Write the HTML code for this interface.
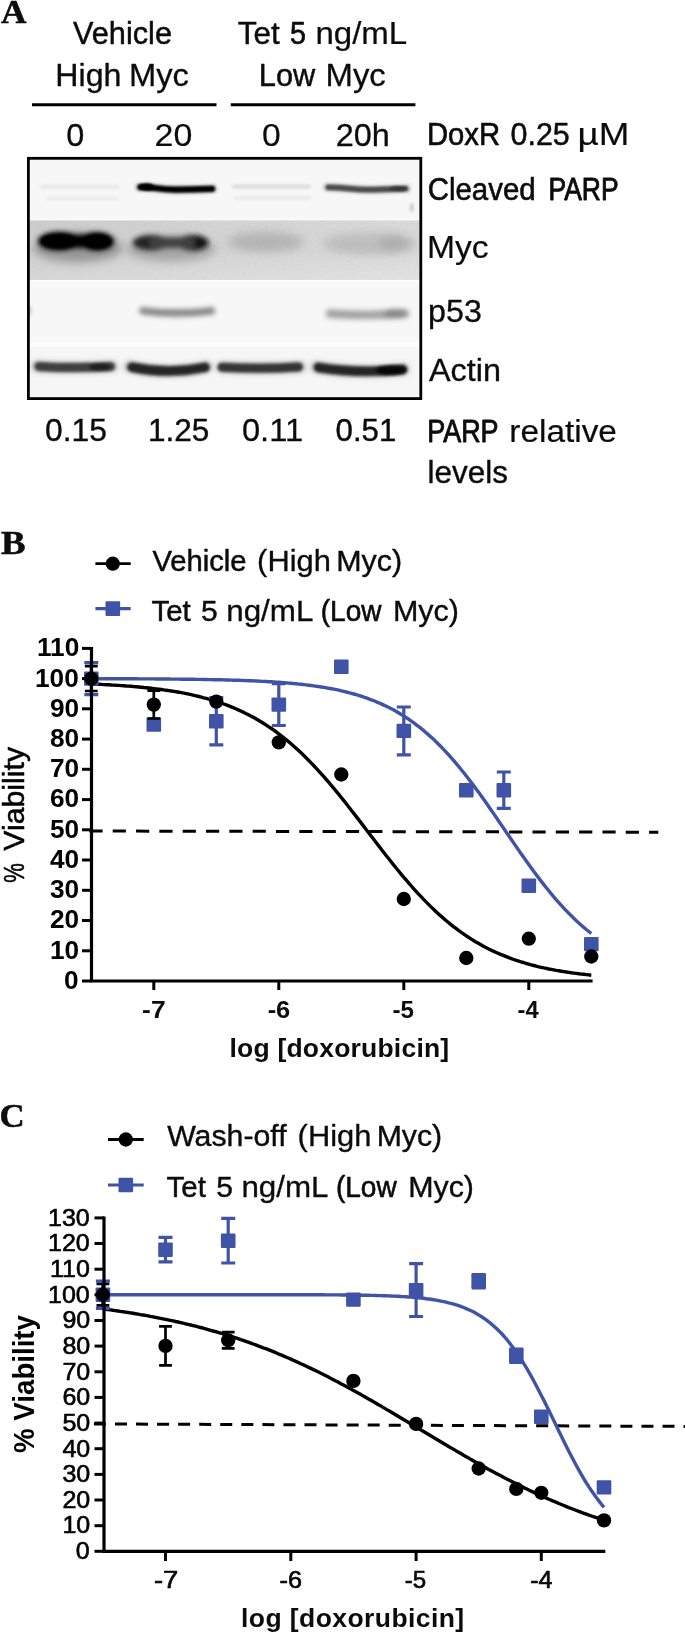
<!DOCTYPE html>
<html><head><meta charset="utf-8"><title>Figure</title>
<style>html,body{margin:0;padding:0;background:#fff}svg{display:block;will-change:transform}text{white-space:pre}</style></head>
<body><svg width="685" height="1634" viewBox="0 0 685 1634">
<rect width="685" height="1634" fill="#fff"/>
<defs>
<filter id="b0" filterUnits="userSpaceOnUse" x="0" y="140" width="460" height="280"><feGaussianBlur stdDeviation="0.85"/></filter>
<filter id="b1" filterUnits="userSpaceOnUse" x="0" y="140" width="460" height="280"><feGaussianBlur stdDeviation="1.1"/></filter>
<filter id="b2" filterUnits="userSpaceOnUse" x="0" y="140" width="460" height="280"><feGaussianBlur stdDeviation="1.8"/></filter>
<filter id="b3" filterUnits="userSpaceOnUse" x="0" y="140" width="460" height="280"><feGaussianBlur stdDeviation="2.6"/></filter>
<filter id="b4" filterUnits="userSpaceOnUse" x="0" y="140" width="460" height="280"><feGaussianBlur stdDeviation="4"/></filter>
<linearGradient id="mycbg" x1="0" x2="1" y1="0" y2="0"><stop offset="0" stop-color="#cdcdcd"/><stop offset="0.45" stop-color="#d3d3d3"/><stop offset="1" stop-color="#dadada"/></linearGradient>
<linearGradient id="mycv" x1="0" x2="0" y1="0" y2="1"><stop offset="0" stop-color="#fff" stop-opacity="0"/><stop offset="1" stop-color="#fff" stop-opacity="0.22"/></linearGradient>
<filter id="grain" x="0" y="0" width="100%" height="100%"><feTurbulence type="fractalNoise" baseFrequency="0.35" numOctaves="2" seed="7" result="n"/><feColorMatrix in="n" type="matrix" values="0 0 0 0 0.5  0 0 0 0 0.5  0 0 0 0 0.5  0.9 0.9 0 0 -0.78"/></filter>
<clipPath id="blotclip"><rect x="29" y="159" width="391" height="238"/></clipPath>
<clipPath id="row2clip"><rect x="29" y="220.4" width="391" height="59.6"/></clipPath>
</defs>
<g clip-path="url(#blotclip)">
<rect x="29" y="159" width="391" height="238" fill="#fcfcfc"/>
<rect x="29" y="159" width="391" height="60.3" fill="#f7f7f7"/>
<rect x="29" y="220.4" width="391" height="59.6" fill="url(#mycbg)"/>
<rect x="29" y="282.2" width="391" height="59.6" fill="#f7f7f7"/>
<rect x="29" y="346.5" width="391" height="51" fill="#f6f6f6"/>
<rect x="40" y="185.10000000000002" width="79" height="3.4" rx="1.7" fill="#bbb" opacity="0.3" filter="url(#b2)"/>
<rect x="46" y="196.8" width="73" height="3.2" rx="1.6" fill="#c4c4c4" opacity="0.25" filter="url(#b2)"/>
<path d="M139.5 187.2C150 186.2 158 189.8 176 189.7S200 189.3 213 188.8" fill="none" stroke="#777" stroke-width="9" stroke-linecap="round" opacity="0.45" filter="url(#b2)"/>
<path d="M140.5 187.2C150 186.2 158 189.8 176 189.7S200 189.3 212 188.8" fill="none" stroke="#000" stroke-width="6.2" stroke-linecap="round" filter="url(#b0)"/>
<ellipse cx="147" cy="187" rx="7" ry="3.6" fill="#000" filter="url(#b0)"/>
<rect x="232" y="184.79999999999998" width="79" height="3.6" rx="1.8" fill="#a8a8a8" opacity="0.38" filter="url(#b2)"/>
<rect x="234" y="196.6" width="77" height="3.2" rx="1.6" fill="#bdbdbd" opacity="0.28" filter="url(#b2)"/>
<path d="M327 187.2C340 187 352 189.7 368 189.7S395 189 406.5 188.6" fill="none" stroke="#888" stroke-width="9" stroke-linecap="round" opacity="0.4" filter="url(#b2)"/>
<path d="M328.5 187.3C340 187 352 189.7 368 189.7S395 189 405.5 188.6" fill="none" stroke="#4c4c4c" stroke-width="5.8" stroke-linecap="round" filter="url(#b1)"/>
<ellipse cx="398" cy="188.7" rx="8" ry="2.6" fill="#222" opacity="0.5" filter="url(#b1)"/>
<ellipse cx="411.8" cy="207.5" rx="1.5" ry="4.5" fill="#aaa" filter="url(#b2)" opacity="0.75"/>
<g clip-path="url(#row2clip)">
<rect x="29" y="220" width="391" height="61" filter="url(#grain)" opacity="0.3"/>
<ellipse cx="78" cy="248" rx="44" ry="15" fill="#444" opacity="0.42" filter="url(#b4)"/>
<g filter="url(#b3)"><ellipse cx="59" cy="241.2" rx="21" ry="9.4" fill="#000"/><ellipse cx="97" cy="241.4" rx="17" ry="9.4" fill="#000"/><rect x="56" y="234.6" width="44" height="13.4" rx="3" fill="#000"/></g>
<g filter="url(#b2)"><ellipse cx="59" cy="241.2" rx="18" ry="7" fill="#000"/><ellipse cx="97" cy="241.4" rx="14" ry="7" fill="#000"/></g>
<ellipse cx="171" cy="249" rx="44" ry="13" fill="#555" opacity="0.36" filter="url(#b4)"/>
<g filter="url(#b3)" opacity="0.95"><ellipse cx="151" cy="242.6" rx="18" ry="7.6" fill="#1a1a1a"/><ellipse cx="193" cy="242.8" rx="15.5" ry="7.8" fill="#111"/><rect x="150" y="237.4" width="44" height="10.4" fill="#3a3a3a"/></g>
<ellipse cx="266" cy="242" rx="38" ry="10" fill="#808080" opacity="0.36" filter="url(#b4)"/>
<ellipse cx="370" cy="244" rx="47" ry="11" fill="#858585" opacity="0.3" filter="url(#b4)"/>
<ellipse cx="394" cy="243" rx="14" ry="8" fill="#777" opacity="0.22" filter="url(#b4)"/>
<rect x="29" y="250" width="391" height="31" fill="url(#mycv)"/>
</g>
<path d="M143 310.8Q177 315.2 211.5 310.8" fill="none" stroke="#555" stroke-width="7.4" stroke-linecap="round" opacity="0.7" filter="url(#b3)"/>
<path d="M330 313.6Q366 316.4 405 313.6" fill="none" stroke="#555" stroke-width="8.6" stroke-linecap="round" opacity="0.52" filter="url(#b3)"/>
<ellipse cx="395" cy="313.2" rx="11" ry="4.4" fill="#444" opacity="0.3" filter="url(#b3)"/>
<ellipse cx="30" cy="311" rx="2.2" ry="5" fill="#aaa" opacity="0.45" filter="url(#b2)"/>
<path d="M37 366.4Q74.5 368.70000000000005 112 366.6" fill="none" stroke="#777" stroke-width="11.5" stroke-linecap="round" opacity="0.5" filter="url(#b3)"/>
<path d="M39 366.4Q74.75 368.70000000000005 110.5 366.6" fill="none" stroke="#303030" stroke-width="9.0" stroke-linecap="round" opacity="0.9" filter="url(#b2)"/>
<ellipse cx="100" cy="367" rx="11" ry="3.6" fill="#000" opacity="0.5" filter="url(#b2)"/>
<path d="M130 366.6Q168.25 375.69999999999993 206.5 366.8" fill="none" stroke="#777" stroke-width="12" stroke-linecap="round" opacity="0.5" filter="url(#b3)"/>
<path d="M132 367.2Q168.5 374.70000000000005 205 367.4" fill="none" stroke="#1e1e1e" stroke-width="9.6" stroke-linecap="round" opacity="0.94" filter="url(#b2)"/>
<path d="M222 367.2Q261.0 369.29999999999995 300 367" fill="none" stroke="#777" stroke-width="11.5" stroke-linecap="round" opacity="0.5" filter="url(#b3)"/>
<path d="M222 367.2Q260.25 369.29999999999995 298.5 367" fill="none" stroke="#2a2a2a" stroke-width="9.0" stroke-linecap="round" opacity="0.92" filter="url(#b2)"/>
<path d="M316.5 367.2Q360.0 374.5 403.5 369.4" fill="none" stroke="#777" stroke-width="12" stroke-linecap="round" opacity="0.5" filter="url(#b3)"/>
<path d="M318.5 367.4Q360.5 374.0 402.5 369.4" fill="none" stroke="#1e1e1e" stroke-width="9.6" stroke-linecap="round" opacity="0.94" filter="url(#b2)"/>
<ellipse cx="391" cy="370" rx="15" ry="4.8" fill="#000" opacity="0.8" filter="url(#b2)"/>
</g>
<rect x="28.4" y="158.3" width="392.4" height="240.3" fill="none" stroke="#000" stroke-width="2.8"/>
<g fill="#0c0c0c" stroke="#0c0c0c" stroke-width="0.5" stroke-linejoin="round">
<text x="1.00" y="22.60" font-family='"Liberation Serif", serif' font-weight="bold" font-size="33.2" textLength="25.47" lengthAdjust="spacingAndGlyphs">A</text>
<text x="0.99" y="553.50" font-family='"Liberation Serif", serif' font-weight="bold" font-size="33.2" textLength="24.58" lengthAdjust="spacingAndGlyphs">B</text>
<text x="-0.60" y="1126.80" font-family='"Liberation Serif", serif' font-weight="bold" font-size="33.2" textLength="25.17" lengthAdjust="spacingAndGlyphs">C</text>
<text x="73.00" y="43.80" font-family='"Liberation Sans", sans-serif' font-weight="normal" font-size="31" textLength="98.96" lengthAdjust="spacingAndGlyphs" stroke-width="0.48">Vehicle</text>
<text y="86.30" font-family='"Liberation Sans", sans-serif' font-weight="normal" font-size="31"><tspan x="55.39" textLength="66.04" lengthAdjust="spacingAndGlyphs" stroke-width="0.34">High</tspan> <tspan x="128.94" textLength="59.94" lengthAdjust="spacingAndGlyphs" stroke-width="0.27">Myc</tspan></text>
<text y="43.80" font-family='"Liberation Sans", sans-serif' font-weight="normal" font-size="31"><tspan x="237.89" textLength="41.77" lengthAdjust="spacingAndGlyphs" stroke-width="0.42">Tet</tspan> <tspan x="290.07" textLength="15.98" lengthAdjust="spacingAndGlyphs" stroke-width="0.68">5</tspan> <tspan x="315.47" textLength="91.78" lengthAdjust="spacingAndGlyphs" stroke-width="0.24">ng/mL</tspan></text>
<text y="86.30" font-family='"Liberation Sans", sans-serif' font-weight="normal" font-size="31"><tspan x="258.82" textLength="56.45" lengthAdjust="spacingAndGlyphs" stroke-width="0.47">Low</tspan> <tspan x="325.52" textLength="60.26" lengthAdjust="spacingAndGlyphs" stroke-width="0.26">Myc</tspan></text>
<text x="66.25" y="145.60" font-family='"Liberation Sans", sans-serif' font-weight="normal" font-size="31" textLength="18.06" lengthAdjust="spacingAndGlyphs" stroke-width="0.30">0</text>
<text x="154.61" y="145.60" font-family='"Liberation Sans", sans-serif' font-weight="normal" font-size="31" textLength="37.82" lengthAdjust="spacingAndGlyphs" stroke-width="0.15">20</text>
<text x="261.91" y="145.60" font-family='"Liberation Sans", sans-serif' font-weight="normal" font-size="31" textLength="18.75" lengthAdjust="spacingAndGlyphs" stroke-width="0.17">0</text>
<text x="335.71" y="145.60" font-family='"Liberation Sans", sans-serif' font-weight="normal" font-size="31" textLength="54.11" lengthAdjust="spacingAndGlyphs" stroke-width="0.30">20h</text>
<text y="145.30" font-family='"Liberation Sans", sans-serif' font-weight="normal" font-size="31"><tspan x="426.97" textLength="73.16" lengthAdjust="spacingAndGlyphs" stroke-width="0.63">DoxR</tspan> <tspan x="510.52" textLength="59.20" lengthAdjust="spacingAndGlyphs" stroke-width="0.51">0.25</tspan> <tspan x="577.53" textLength="51.86" lengthAdjust="spacingAndGlyphs" stroke-width="0.15">µM</tspan></text>
<text y="200.00" font-family='"Liberation Sans", sans-serif' font-weight="normal" font-size="31"><tspan x="427.70" textLength="107.96" lengthAdjust="spacingAndGlyphs" stroke-width="0.61">Cleaved</tspan> <tspan x="548.44" textLength="70.12" lengthAdjust="spacingAndGlyphs" stroke-width="0.92">PARP</tspan></text>
<text x="426.95" y="257.60" font-family='"Liberation Sans", sans-serif' font-weight="normal" font-size="31" textLength="61.65" lengthAdjust="spacingAndGlyphs" stroke-width="0.18">Myc</text>
<text x="428.12" y="321.70" font-family='"Liberation Sans", sans-serif' font-weight="normal" font-size="31" textLength="53.67" lengthAdjust="spacingAndGlyphs" stroke-width="0.33">p53</text>
<text x="429.00" y="381.00" font-family='"Liberation Sans", sans-serif' font-weight="normal" font-size="31" textLength="72.01" lengthAdjust="spacingAndGlyphs" stroke-width="0.31">Actin</text>
<text x="44.97" y="441.30" font-family='"Liberation Sans", sans-serif' font-weight="normal" font-size="31" textLength="61.90" lengthAdjust="spacingAndGlyphs" stroke-width="0.37">0.15</text>
<text x="147.96" y="441.30" font-family='"Liberation Sans", sans-serif' font-weight="normal" font-size="31" textLength="61.40" lengthAdjust="spacingAndGlyphs" stroke-width="0.39">1.25</text>
<text x="241.95" y="441.30" font-family='"Liberation Sans", sans-serif' font-weight="normal" font-size="31" textLength="61.16" lengthAdjust="spacingAndGlyphs" stroke-width="0.28">0.11</text>
<text x="335.59" y="441.30" font-family='"Liberation Sans", sans-serif' font-weight="normal" font-size="31" textLength="60.76" lengthAdjust="spacingAndGlyphs" stroke-width="0.43">0.51</text>
<text y="441.50" font-family='"Liberation Sans", sans-serif' font-weight="normal" font-size="31"><tspan x="427.21" textLength="70.86" lengthAdjust="spacingAndGlyphs" stroke-width="0.89">PARP</tspan> <tspan x="509.35" textLength="107.56" lengthAdjust="spacingAndGlyphs" stroke-width="0.21">relative</tspan></text>
<text x="427.57" y="483.20" font-family='"Liberation Sans", sans-serif' font-weight="normal" font-size="31" textLength="80.41" lengthAdjust="spacingAndGlyphs" stroke-width="0.40">levels</text>
<text y="570.80" font-family='"Liberation Sans", sans-serif' font-weight="normal" font-size="29.75"><tspan x="152.40" textLength="94.22" lengthAdjust="spacingAndGlyphs" stroke-width="0.51">Vehicle</tspan> <tspan x="257.13" textLength="73.75" lengthAdjust="spacingAndGlyphs" stroke-width="0.33">(High</tspan> <tspan x="336.15" textLength="65.93" lengthAdjust="spacingAndGlyphs" stroke-width="0.38">Myc)</tspan></text>
<text y="621.00" font-family='"Liberation Sans", sans-serif' font-weight="normal" font-size="29.75"><tspan x="151.41" textLength="39.28" lengthAdjust="spacingAndGlyphs" stroke-width="0.48">Tet</tspan> <tspan x="201.09" textLength="16.67" lengthAdjust="spacingAndGlyphs" stroke-width="0.43">5</tspan> <tspan x="226.22" textLength="85.99" lengthAdjust="spacingAndGlyphs" stroke-width="0.32">ng/mL</tspan> <tspan x="320.71" textLength="60.80" lengthAdjust="spacingAndGlyphs" stroke-width="0.63">(Low</tspan> <tspan x="392.95" textLength="66.04" lengthAdjust="spacingAndGlyphs" stroke-width="0.37">Myc)</tspan></text>
<text y="1146.30" font-family='"Liberation Sans", sans-serif' font-weight="normal" font-size="29.75"><tspan x="167.20" textLength="119.40" lengthAdjust="spacingAndGlyphs" stroke-width="0.40">Wash-off</tspan> <tspan x="297.63" textLength="73.75" lengthAdjust="spacingAndGlyphs" stroke-width="0.33">(High</tspan> <tspan x="376.67" textLength="65.51" lengthAdjust="spacingAndGlyphs" stroke-width="0.40">Myc)</tspan></text>
<text y="1196.70" font-family='"Liberation Sans", sans-serif' font-weight="normal" font-size="29.75"><tspan x="166.61" textLength="39.28" lengthAdjust="spacingAndGlyphs" stroke-width="0.48">Tet</tspan> <tspan x="216.29" textLength="16.67" lengthAdjust="spacingAndGlyphs" stroke-width="0.43">5</tspan> <tspan x="241.42" textLength="85.99" lengthAdjust="spacingAndGlyphs" stroke-width="0.32">ng/mL</tspan> <tspan x="335.91" textLength="60.80" lengthAdjust="spacingAndGlyphs" stroke-width="0.63">(Low</tspan> <tspan x="408.16" textLength="65.83" lengthAdjust="spacingAndGlyphs" stroke-width="0.38">Myc)</tspan></text>
<text x="229.50" y="1056.50" font-family='"Liberation Sans", sans-serif' font-weight="bold" font-size="26.5" textLength="219.69" lengthAdjust="spacing" stroke="none">log [doxorubicin]</text>
<text x="241.00" y="1626.50" font-family='"Liberation Sans", sans-serif' font-weight="bold" font-size="26.5" textLength="223.19" lengthAdjust="spacing" stroke="none">log [doxorubicin]</text>
<text x="142.13" y="1018.10" font-family='"Liberation Sans", sans-serif' font-weight="bold" font-size="24.7" textLength="23.49" lengthAdjust="spacingAndGlyphs" stroke="none">-7</text>
<text x="267.67" y="1018.10" font-family='"Liberation Sans", sans-serif' font-weight="bold" font-size="24.7" textLength="22.61" lengthAdjust="spacingAndGlyphs" stroke="none">-6</text>
<text x="392.52" y="1018.10" font-family='"Liberation Sans", sans-serif' font-weight="bold" font-size="24.7" textLength="21.51" lengthAdjust="spacingAndGlyphs" stroke="none">-5</text>
<text x="517.54" y="1018.10" font-family='"Liberation Sans", sans-serif' font-weight="bold" font-size="24.7" textLength="21.12" lengthAdjust="spacingAndGlyphs" stroke="none">-4</text>
<text x="153.97" y="1588.20" font-family='"Liberation Sans", sans-serif' font-weight="normal" font-size="24.3" textLength="24.34" lengthAdjust="spacingAndGlyphs" stroke="#000" stroke-width="0.65">-7</text>
<text x="279.56" y="1588.20" font-family='"Liberation Sans", sans-serif' font-weight="normal" font-size="24.3" textLength="22.47" lengthAdjust="spacingAndGlyphs" stroke="#000" stroke-width="0.65">-6</text>
<text x="404.81" y="1588.20" font-family='"Liberation Sans", sans-serif' font-weight="normal" font-size="24.3" textLength="21.39" lengthAdjust="spacingAndGlyphs" stroke="#000" stroke-width="0.65">-5</text>
<text x="530.27" y="1588.20" font-family='"Liberation Sans", sans-serif' font-weight="normal" font-size="24.3" textLength="22.26" lengthAdjust="spacingAndGlyphs" stroke="#000" stroke-width="0.65">-4</text>
</g>
<line x1="89.4" y1="831" x2="658.3" y2="832.2" stroke="#000" stroke-width="3" stroke-dasharray="13.2 10.12"/>
<polyline points="91.3,678.7 93.8,678.7 96.3,678.7 98.8,678.7 101.3,678.7 103.8,678.7 106.3,678.7 108.8,678.7 111.3,678.7 113.8,678.8 116.3,678.8 118.8,678.8 121.3,678.8 123.8,678.8 126.3,678.8 128.8,678.8 131.3,678.8 133.8,678.8 136.3,678.8 138.8,678.9 141.3,678.9 143.8,678.9 146.3,678.9 148.8,678.9 151.3,678.9 153.8,678.9 156.3,679.0 158.8,679.0 161.3,679.0 163.8,679.0 166.3,679.0 168.8,679.0 171.3,679.1 173.8,679.1 176.3,679.1 178.8,679.1 181.3,679.2 183.8,679.2 186.3,679.2 188.8,679.3 191.3,679.3 193.8,679.3 196.3,679.4 198.8,679.4 201.3,679.4 203.8,679.5 206.3,679.5 208.8,679.6 211.3,679.6 213.8,679.7 216.3,679.7 218.8,679.8 221.3,679.8 223.8,679.9 226.3,680.0 228.8,680.0 231.3,680.1 233.8,680.2 236.3,680.2 238.8,680.3 241.3,680.4 243.8,680.5 246.3,680.6 248.8,680.7 251.3,680.8 253.8,680.9 256.3,681.0 258.8,681.1 261.3,681.3 263.8,681.4 266.3,681.5 268.8,681.7 271.3,681.8 273.8,682.0 276.3,682.2 278.8,682.3 281.3,682.5 283.8,682.7 286.3,682.9 288.8,683.1 291.3,683.3 293.8,683.6 296.3,683.8 298.8,684.1 301.3,684.3 303.8,684.6 306.3,684.9 308.8,685.2 311.3,685.5 313.8,685.9 316.3,686.2 318.8,686.6 321.3,687.0 323.8,687.4 326.3,687.8 328.8,688.3 331.3,688.7 333.8,689.2 336.3,689.7 338.8,690.2 341.3,690.8 343.8,691.4 346.3,692.0 348.8,692.6 351.3,693.3 353.8,694.0 356.3,694.7 358.8,695.5 361.3,696.2 363.8,697.1 366.3,697.9 368.8,698.8 371.3,699.8 373.8,700.7 376.3,701.8 378.8,702.8 381.3,703.9 383.8,705.1 386.3,706.3 388.8,707.5 391.3,708.8 393.8,710.1 396.3,711.5 398.8,713.0 401.3,714.5 403.8,716.0 406.3,717.7 408.8,719.3 411.3,721.1 413.8,722.9 416.3,724.8 418.8,726.7 421.3,728.7 423.8,730.7 426.3,732.9 428.8,735.1 431.3,737.3 433.8,739.6 436.3,742.0 438.8,744.5 441.3,747.0 443.8,749.6 446.3,752.3 448.8,755.0 451.3,757.8 453.8,760.7 456.3,763.6 458.8,766.6 461.3,769.7 463.8,772.8 466.3,776.0 468.8,779.2 471.3,782.5 473.8,785.8 476.3,789.2 478.8,792.6 481.3,796.1 483.8,799.6 486.3,803.1 488.8,806.7 491.3,810.3 493.8,813.9 496.3,817.5 498.8,821.2 501.3,824.9 503.8,828.5 506.3,832.2 508.8,835.8 511.3,839.5 513.8,843.1 516.3,846.8 518.8,850.4 521.3,854.0 523.8,857.5 526.3,861.1 528.8,864.5 531.3,868.0 533.8,871.4 536.3,874.8 538.8,878.1 541.3,881.4 543.8,884.6 546.3,887.7 548.8,890.8 551.3,893.9 553.8,896.8 556.3,899.8 558.8,902.6 561.3,905.4 563.8,908.1 566.3,910.8 568.8,913.3 571.3,915.8 573.8,918.3 576.3,920.7 578.8,923.0 581.3,925.2 583.8,927.4 586.3,929.5 588.8,931.5 591.3,933.5" fill="none" stroke="#3f53a7" stroke-width="3.4" stroke-linejoin="round"/>
<polyline points="91.3,684.0 93.8,684.1 96.3,684.2 98.8,684.3 101.3,684.4 103.8,684.6 106.3,684.7 108.8,684.8 111.3,685.0 113.8,685.1 116.3,685.3 118.8,685.4 121.3,685.6 123.8,685.8 126.3,686.0 128.8,686.1 131.3,686.3 133.8,686.6 136.3,686.8 138.8,687.0 141.3,687.2 143.8,687.5 146.3,687.7 148.8,688.0 151.3,688.3 153.8,688.6 156.3,688.9 158.8,689.2 161.3,689.5 163.8,689.9 166.3,690.2 168.8,690.6 171.3,691.0 173.8,691.4 176.3,691.8 178.8,692.2 181.3,692.7 183.8,693.2 186.3,693.7 188.8,694.2 191.3,694.7 193.8,695.3 196.3,695.9 198.8,696.5 201.3,697.1 203.8,697.8 206.3,698.4 208.8,699.1 211.3,699.9 213.8,700.6 216.3,701.4 218.8,702.3 221.3,703.1 223.8,704.0 226.3,704.9 228.8,705.9 231.3,706.9 233.8,707.9 236.3,709.0 238.8,710.1 241.3,711.2 243.8,712.4 246.3,713.7 248.8,714.9 251.3,716.2 253.8,717.6 256.3,719.0 258.8,720.5 261.3,722.0 263.8,723.5 266.3,725.1 268.8,726.8 271.3,728.5 273.8,730.2 276.3,732.0 278.8,733.9 281.3,735.8 283.8,737.8 286.3,739.8 288.8,741.9 291.3,744.0 293.8,746.2 296.3,748.5 298.8,750.8 301.3,753.1 303.8,755.5 306.3,758.0 308.8,760.5 311.3,763.1 313.8,765.7 316.3,768.4 318.8,771.1 321.3,773.8 323.8,776.7 326.3,779.5 328.8,782.4 331.3,785.4 333.8,788.3 336.3,791.4 338.8,794.4 341.3,797.5 343.8,800.6 346.3,803.8 348.8,807.0 351.3,810.2 353.8,813.4 356.3,816.6 358.8,819.9 361.3,823.1 363.8,826.4 366.3,829.7 368.8,832.9 371.3,836.2 373.8,839.5 376.3,842.7 378.8,846.0 381.3,849.2 383.8,852.5 386.3,855.7 388.8,858.8 391.3,862.0 393.8,865.1 396.3,868.2 398.8,871.3 401.3,874.3 403.8,877.3 406.3,880.2 408.8,883.1 411.3,886.0 413.8,888.8 416.3,891.6 418.8,894.3 421.3,896.9 423.8,899.6 426.3,902.1 428.8,904.6 431.3,907.1 433.8,909.5 436.3,911.9 438.8,914.2 441.3,916.4 443.8,918.6 446.3,920.7 448.8,922.8 451.3,924.8 453.8,926.8 456.3,928.7 458.8,930.6 461.3,932.4 463.8,934.1 466.3,935.8 468.8,937.5 471.3,939.1 473.8,940.7 476.3,942.2 478.8,943.6 481.3,945.0 483.8,946.4 486.3,947.7 488.8,949.0 491.3,950.2 493.8,951.4 496.3,952.5 498.8,953.6 501.3,954.7 503.8,955.7 506.3,956.7 508.8,957.7 511.3,958.6 513.8,959.5 516.3,960.4 518.8,961.2 521.3,962.0 523.8,962.7 526.3,963.5 528.8,964.2 531.3,964.9 533.8,965.5 536.3,966.2 538.8,966.8 541.3,967.3 543.8,967.9 546.3,968.4 548.8,969.0 551.3,969.4 553.8,969.9 556.3,970.4 558.8,970.8 561.3,971.2 563.8,971.6 566.3,972.0 568.8,972.4 571.3,972.8 573.8,973.1 576.3,973.4 578.8,973.8 581.3,974.1 583.8,974.3 586.3,974.6 588.8,974.9 591.3,975.2" fill="none" stroke="#000" stroke-width="3.4" stroke-linejoin="round"/>
<path d="M91.3 662.6V694.6M84.3 662.6h14M84.3 694.6h14" stroke="#3f53a7" stroke-width="3.2" fill="none"/>
<rect x="84.0" y="671.4" width="14.6" height="14.4" rx="1" fill="#3f53a7"/>
<rect x="146.5" y="717.4" width="14.6" height="14.4" rx="1" fill="#3f53a7"/>
<path d="M216.3 697.7V744.8M209.3 697.7h14M209.3 744.8h14" stroke="#3f53a7" stroke-width="3.2" fill="none"/>
<rect x="209.0" y="714.0" width="14.6" height="14.4" rx="1" fill="#3f53a7"/>
<path d="M278.8 683.7V725.5M271.8 683.7h14M271.8 725.5h14" stroke="#3f53a7" stroke-width="3.2" fill="none"/>
<rect x="271.5" y="697.4" width="14.6" height="14.4" rx="1" fill="#3f53a7"/>
<rect x="334.0" y="659.6" width="14.6" height="14.4" rx="1" fill="#3f53a7"/>
<path d="M403.8 707.0V754.8M396.8 707.0h14M396.8 754.8h14" stroke="#3f53a7" stroke-width="3.2" fill="none"/>
<rect x="396.5" y="723.7" width="14.6" height="14.4" rx="1" fill="#3f53a7"/>
<rect x="459.0" y="783.0" width="14.6" height="14.4" rx="1" fill="#3f53a7"/>
<path d="M503.8 772.0V808.3M496.8 772.0h14M496.8 808.3h14" stroke="#3f53a7" stroke-width="3.2" fill="none"/>
<rect x="496.5" y="783.0" width="14.6" height="14.4" rx="1" fill="#3f53a7"/>
<rect x="521.5" y="878.5" width="14.6" height="14.4" rx="1" fill="#3f53a7"/>
<rect x="584.0" y="936.9" width="14.6" height="14.4" rx="1" fill="#3f53a7"/>
<path d="M91.3 666.2V691.0M84.9 666.2h12.8M84.9 691.0h12.8" stroke="#000" stroke-width="2.7" fill="none"/>
<circle cx="91.3" cy="678.6" r="7.15" fill="#000"/>
<path d="M153.8 690.7V718.5M147.4 690.7h12.8M147.4 718.5h12.8" stroke="#000" stroke-width="2.7" fill="none"/>
<circle cx="153.8" cy="704.6" r="7.15" fill="#000"/>
<circle cx="216.3" cy="701.6" r="7.15" fill="#000"/>
<circle cx="278.8" cy="742.4" r="7.15" fill="#000"/>
<circle cx="341.3" cy="774.5" r="7.15" fill="#000"/>
<circle cx="403.8" cy="899.0" r="7.15" fill="#000"/>
<circle cx="466.3" cy="958.0" r="7.15" fill="#000"/>
<circle cx="528.8" cy="938.7" r="7.15" fill="#000"/>
<circle cx="591.3" cy="956.5" r="7.15" fill="#000"/>
<path d="M91.5 646.9V982.5M90.0 981.0H592.6" stroke="#000" stroke-width="3.2" fill="none"/>
<line x1="82.0" x2="91.5" y1="981.0" y2="981.0" stroke="#000" stroke-width="3"/>
<line x1="82.0" x2="91.5" y1="950.8" y2="950.8" stroke="#000" stroke-width="3"/>
<line x1="82.0" x2="91.5" y1="920.5" y2="920.5" stroke="#000" stroke-width="3"/>
<line x1="82.0" x2="91.5" y1="890.3" y2="890.3" stroke="#000" stroke-width="3"/>
<line x1="82.0" x2="91.5" y1="860.0" y2="860.0" stroke="#000" stroke-width="3"/>
<line x1="82.0" x2="91.5" y1="829.8" y2="829.8" stroke="#000" stroke-width="3"/>
<line x1="82.0" x2="91.5" y1="799.6" y2="799.6" stroke="#000" stroke-width="3"/>
<line x1="82.0" x2="91.5" y1="769.3" y2="769.3" stroke="#000" stroke-width="3"/>
<line x1="82.0" x2="91.5" y1="739.1" y2="739.1" stroke="#000" stroke-width="3"/>
<line x1="82.0" x2="91.5" y1="708.8" y2="708.8" stroke="#000" stroke-width="3"/>
<line x1="82.0" x2="91.5" y1="678.6" y2="678.6" stroke="#000" stroke-width="3"/>
<line x1="82.0" x2="91.5" y1="648.4" y2="648.4" stroke="#000" stroke-width="3"/>
<line x1="153.8" x2="153.8" y1="981.0" y2="990.0" stroke="#000" stroke-width="3"/>
<line x1="278.8" x2="278.8" y1="981.0" y2="990.0" stroke="#000" stroke-width="3"/>
<line x1="403.8" x2="403.8" y1="981.0" y2="990.0" stroke="#000" stroke-width="3"/>
<line x1="528.8" x2="528.8" y1="981.0" y2="990.0" stroke="#000" stroke-width="3"/>
<g fill="#000">
<text x="64.00" y="988.90" font-family='"Liberation Sans", sans-serif' font-weight="bold" font-size="26.2" textLength="14.58" lengthAdjust="spacingAndGlyphs">0</text>
<text x="50.00" y="958.66" font-family='"Liberation Sans", sans-serif' font-weight="bold" font-size="26.2" textLength="29.14" lengthAdjust="spacingAndGlyphs">10</text>
<text x="50.00" y="928.42" font-family='"Liberation Sans", sans-serif' font-weight="bold" font-size="26.2" textLength="29.14" lengthAdjust="spacingAndGlyphs">20</text>
<text x="50.00" y="898.18" font-family='"Liberation Sans", sans-serif' font-weight="bold" font-size="26.2" textLength="29.14" lengthAdjust="spacingAndGlyphs">30</text>
<text x="50.00" y="867.94" font-family='"Liberation Sans", sans-serif' font-weight="bold" font-size="26.2" textLength="29.14" lengthAdjust="spacingAndGlyphs">40</text>
<text x="50.00" y="837.70" font-family='"Liberation Sans", sans-serif' font-weight="bold" font-size="26.2" textLength="29.14" lengthAdjust="spacingAndGlyphs">50</text>
<text x="50.00" y="807.46" font-family='"Liberation Sans", sans-serif' font-weight="bold" font-size="26.2" textLength="29.14" lengthAdjust="spacingAndGlyphs">60</text>
<text x="50.00" y="777.22" font-family='"Liberation Sans", sans-serif' font-weight="bold" font-size="26.2" textLength="29.14" lengthAdjust="spacingAndGlyphs">70</text>
<text x="50.00" y="746.98" font-family='"Liberation Sans", sans-serif' font-weight="bold" font-size="26.2" textLength="29.14" lengthAdjust="spacingAndGlyphs">80</text>
<text x="50.00" y="716.74" font-family='"Liberation Sans", sans-serif' font-weight="bold" font-size="26.2" textLength="29.14" lengthAdjust="spacingAndGlyphs">90</text>
<text x="35.00" y="686.50" font-family='"Liberation Sans", sans-serif' font-weight="bold" font-size="26.2" textLength="43.70" lengthAdjust="spacingAndGlyphs">100</text>
<text x="37.00" y="656.26" font-family='"Liberation Sans", sans-serif' font-weight="bold" font-size="26.2" textLength="42.25" lengthAdjust="spacingAndGlyphs">110</text>
<g transform="translate(24.1,882.0) rotate(-90)" font-family='"Liberation Sans", sans-serif' font-weight="normal" font-size="28.8" stroke="#000" stroke-width="0.5" stroke-linejoin="round">
<text x="-0.77" y="0" textLength="19.63" lengthAdjust="spacingAndGlyphs">%</text>
<text x="31.30" y="0" textLength="103.76" lengthAdjust="spacingAndGlyphs">Viability</text>
</g>
</g>
<line x1="93.9" y1="1423.9" x2="685" y2="1426.4" stroke="#000" stroke-width="3" stroke-dasharray="12 9.06"/>
<polyline points="102.9,1294.7 105.4,1294.7 107.9,1294.7 110.4,1294.7 112.9,1294.7 115.4,1294.7 117.9,1294.7 120.4,1294.7 122.9,1294.7 125.4,1294.7 128.0,1294.7 130.5,1294.7 133.0,1294.7 135.5,1294.7 138.0,1294.7 140.5,1294.7 143.0,1294.7 145.5,1294.7 148.0,1294.7 150.5,1294.7 153.0,1294.7 155.5,1294.7 158.0,1294.7 160.5,1294.7 163.0,1294.7 165.5,1294.7 168.0,1294.7 170.5,1294.7 173.1,1294.7 175.6,1294.7 178.1,1294.7 180.6,1294.7 183.1,1294.7 185.6,1294.7 188.1,1294.7 190.6,1294.7 193.1,1294.7 195.6,1294.7 198.1,1294.7 200.6,1294.7 203.1,1294.7 205.6,1294.7 208.1,1294.7 210.6,1294.7 213.1,1294.7 215.6,1294.7 218.1,1294.7 220.7,1294.7 223.2,1294.7 225.7,1294.7 228.2,1294.7 230.7,1294.7 233.2,1294.7 235.7,1294.7 238.2,1294.7 240.7,1294.7 243.2,1294.7 245.7,1294.7 248.2,1294.7 250.7,1294.7 253.2,1294.7 255.7,1294.7 258.2,1294.7 260.7,1294.7 263.2,1294.7 265.8,1294.7 268.3,1294.7 270.8,1294.7 273.3,1294.7 275.8,1294.7 278.3,1294.7 280.8,1294.7 283.3,1294.7 285.8,1294.7 288.3,1294.7 290.8,1294.8 293.3,1294.8 295.8,1294.8 298.3,1294.8 300.8,1294.8 303.3,1294.8 305.8,1294.8 308.3,1294.8 310.8,1294.8 313.4,1294.8 315.9,1294.8 318.4,1294.8 320.9,1294.8 323.4,1294.8 325.9,1294.9 328.4,1294.9 330.9,1294.9 333.4,1294.9 335.9,1294.9 338.4,1294.9 340.9,1295.0 343.4,1295.0 345.9,1295.0 348.4,1295.0 350.9,1295.1 353.4,1295.1 355.9,1295.1 358.5,1295.2 361.0,1295.2 363.5,1295.2 366.0,1295.3 368.5,1295.3 371.0,1295.4 373.5,1295.4 376.0,1295.5 378.5,1295.6 381.0,1295.6 383.5,1295.7 386.0,1295.8 388.5,1295.9 391.0,1296.0 393.5,1296.1 396.0,1296.2 398.5,1296.3 401.0,1296.5 403.5,1296.6 406.1,1296.8 408.6,1297.0 411.1,1297.1 413.6,1297.4 416.1,1297.6 418.6,1297.8 421.1,1298.1 423.6,1298.3 426.1,1298.7 428.6,1299.0 431.1,1299.3 433.6,1299.7 436.1,1300.1 438.6,1300.6 441.1,1301.1 443.6,1301.6 446.1,1302.1 448.6,1302.8 451.2,1303.4 453.7,1304.1 456.2,1304.9 458.7,1305.7 461.2,1306.6 463.7,1307.5 466.2,1308.6 468.7,1309.7 471.2,1310.8 473.7,1312.1 476.2,1313.5 478.7,1314.9 481.2,1316.5 483.7,1318.1 486.2,1319.9 488.7,1321.8 491.2,1323.9 493.7,1326.0 496.2,1328.3 498.8,1330.7 501.3,1333.3 503.8,1336.0 506.3,1338.9 508.8,1342.0 511.3,1345.2 513.8,1348.5 516.3,1352.0 518.8,1355.7 521.3,1359.6 523.8,1363.6 526.3,1367.7 528.8,1372.0 531.3,1376.4 533.8,1381.0 536.3,1385.7 538.8,1390.5 541.3,1395.4 543.9,1400.4 546.4,1405.4 548.9,1410.5 551.4,1415.7 553.9,1420.8 556.4,1426.0 558.9,1431.2 561.4,1436.3 563.9,1441.4 566.4,1446.4 568.9,1451.4 571.4,1456.3 573.9,1461.0 576.4,1465.7 578.9,1470.2 581.4,1474.6 583.9,1478.9 586.4,1483.0 588.9,1486.9 591.5,1490.7 594.0,1494.3 596.5,1497.8 599.0,1501.1 601.5,1504.3 604.0,1507.3" fill="none" stroke="#3f53a7" stroke-width="3.4" stroke-linejoin="round"/>
<polyline points="102.9,1308.9 105.4,1309.3 107.9,1309.6 110.4,1309.9 112.9,1310.3 115.4,1310.6 117.9,1311.0 120.4,1311.4 122.9,1311.7 125.4,1312.1 128.0,1312.5 130.5,1312.9 133.0,1313.3 135.5,1313.7 138.0,1314.1 140.5,1314.6 143.0,1315.0 145.5,1315.4 148.0,1315.9 150.5,1316.4 153.0,1316.8 155.5,1317.3 158.0,1317.8 160.5,1318.3 163.0,1318.8 165.5,1319.3 168.0,1319.8 170.5,1320.4 173.1,1320.9 175.6,1321.5 178.1,1322.0 180.6,1322.6 183.1,1323.2 185.6,1323.8 188.1,1324.4 190.6,1325.0 193.1,1325.6 195.6,1326.2 198.1,1326.9 200.6,1327.5 203.1,1328.2 205.6,1328.9 208.1,1329.6 210.6,1330.3 213.1,1331.0 215.6,1331.7 218.1,1332.4 220.7,1333.2 223.2,1333.9 225.7,1334.7 228.2,1335.5 230.7,1336.3 233.2,1337.1 235.7,1337.9 238.2,1338.7 240.7,1339.6 243.2,1340.4 245.7,1341.3 248.2,1342.2 250.7,1343.1 253.2,1344.0 255.7,1344.9 258.2,1345.9 260.7,1346.8 263.2,1347.8 265.8,1348.7 268.3,1349.7 270.8,1350.7 273.3,1351.7 275.8,1352.7 278.3,1353.8 280.8,1354.8 283.3,1355.9 285.8,1357.0 288.3,1358.0 290.8,1359.1 293.3,1360.3 295.8,1361.4 298.3,1362.5 300.8,1363.7 303.3,1364.8 305.8,1366.0 308.3,1367.2 310.8,1368.4 313.4,1369.6 315.9,1370.8 318.4,1372.0 320.9,1373.3 323.4,1374.5 325.9,1375.8 328.4,1377.1 330.9,1378.4 333.4,1379.7 335.9,1381.0 338.4,1382.3 340.9,1383.7 343.4,1385.0 345.9,1386.3 348.4,1387.7 350.9,1389.1 353.4,1390.5 355.9,1391.8 358.5,1393.2 361.0,1394.6 363.5,1396.1 366.0,1397.5 368.5,1398.9 371.0,1400.3 373.5,1401.8 376.0,1403.2 378.5,1404.7 381.0,1406.1 383.5,1407.6 386.0,1409.1 388.5,1410.6 391.0,1412.0 393.5,1413.5 396.0,1415.0 398.5,1416.5 401.0,1418.0 403.5,1419.5 406.1,1421.0 408.6,1422.5 411.1,1424.0 413.6,1425.5 416.1,1427.0 418.6,1428.5 421.1,1430.0 423.6,1431.5 426.1,1433.0 428.6,1434.5 431.1,1436.0 433.6,1437.5 436.1,1439.0 438.6,1440.5 441.1,1442.0 443.6,1443.5 446.1,1445.0 448.6,1446.5 451.2,1447.9 453.7,1449.4 456.2,1450.9 458.7,1452.3 461.2,1453.8 463.7,1455.3 466.2,1456.7 468.7,1458.1 471.2,1459.6 473.7,1461.0 476.2,1462.4 478.7,1463.8 481.2,1465.2 483.7,1466.6 486.2,1468.0 488.7,1469.4 491.2,1470.7 493.7,1472.1 496.2,1473.4 498.8,1474.8 501.3,1476.1 503.8,1477.4 506.3,1478.7 508.8,1480.0 511.3,1481.3 513.8,1482.6 516.3,1483.8 518.8,1485.1 521.3,1486.3 523.8,1487.6 526.3,1488.8 528.8,1490.0 531.3,1491.2 533.8,1492.4 536.3,1493.5 538.8,1494.7 541.3,1495.8 543.9,1497.0 546.4,1498.1 548.9,1499.2 551.4,1500.3 553.9,1501.3 556.4,1502.4 558.9,1503.5 561.4,1504.5 563.9,1505.5 566.4,1506.6 568.9,1507.6 571.4,1508.5 573.9,1509.5 576.4,1510.5 578.9,1511.4 581.4,1512.4 583.9,1513.3 586.4,1514.2 588.9,1515.1 591.5,1516.0 594.0,1516.9 596.5,1517.7 599.0,1518.6 601.5,1519.4 604.0,1520.3" fill="none" stroke="#000" stroke-width="3.4" stroke-linejoin="round"/>
<path d="M102.9 1281.1V1308.3M95.9 1281.1h14M95.9 1308.3h14" stroke="#3f53a7" stroke-width="3.2" fill="none"/>
<rect x="95.6" y="1287.5" width="14.6" height="14.4" rx="1" fill="#3f53a7"/>
<path d="M165.5 1237.4V1261.9M158.5 1237.4h14M158.5 1261.9h14" stroke="#3f53a7" stroke-width="3.2" fill="none"/>
<rect x="158.2" y="1242.5" width="14.6" height="14.4" rx="1" fill="#3f53a7"/>
<path d="M228.2 1218.4V1263.0M221.2 1218.4h14M221.2 1263.0h14" stroke="#3f53a7" stroke-width="3.2" fill="none"/>
<rect x="220.9" y="1233.5" width="14.6" height="14.4" rx="1" fill="#3f53a7"/>
<rect x="346.1" y="1292.4" width="14.6" height="14.4" rx="1" fill="#3f53a7"/>
<path d="M416.1 1263.7V1316.5M409.1 1263.7h14M409.1 1316.5h14" stroke="#3f53a7" stroke-width="3.2" fill="none"/>
<rect x="408.8" y="1282.9" width="14.6" height="14.4" rx="1" fill="#3f53a7"/>
<path d="M478.7 1274.5V1287.8M471.7 1274.5h14M471.7 1287.8h14" stroke="#3f53a7" stroke-width="3.2" fill="none"/>
<rect x="471.4" y="1273.9" width="14.6" height="14.4" rx="1" fill="#3f53a7"/>
<path d="M516.3 1349.0V1362.3M509.3 1349.0h14M509.3 1362.3h14" stroke="#3f53a7" stroke-width="3.2" fill="none"/>
<rect x="509.0" y="1348.4" width="14.6" height="14.4" rx="1" fill="#3f53a7"/>
<rect x="534.0" y="1409.6" width="14.6" height="14.4" rx="1" fill="#3f53a7"/>
<rect x="596.7" y="1480.2" width="14.6" height="14.4" rx="1" fill="#3f53a7"/>
<path d="M102.9 1284.0V1305.4M96.5 1284.0h12.8M96.5 1305.4h12.8" stroke="#000" stroke-width="2.7" fill="none"/>
<circle cx="102.9" cy="1294.7" r="7.15" fill="#000"/>
<path d="M165.5 1326.4V1365.3M159.1 1326.4h12.8M159.1 1365.3h12.8" stroke="#000" stroke-width="2.7" fill="none"/>
<circle cx="165.5" cy="1345.9" r="7.15" fill="#000"/>
<path d="M228.2 1332.1V1348.4M221.8 1332.1h12.8M221.8 1348.4h12.8" stroke="#000" stroke-width="2.7" fill="none"/>
<circle cx="228.2" cy="1340.3" r="7.15" fill="#000"/>
<circle cx="353.4" cy="1380.9" r="7.15" fill="#000"/>
<circle cx="416.1" cy="1423.9" r="7.15" fill="#000"/>
<circle cx="478.7" cy="1468.5" r="7.15" fill="#000"/>
<circle cx="516.3" cy="1488.9" r="7.15" fill="#000"/>
<circle cx="541.3" cy="1492.8" r="7.15" fill="#000"/>
<circle cx="604.0" cy="1520.4" r="7.15" fill="#000"/>
<path d="M104.0 1216.4V1552.8M102.5 1551.3H605.3" stroke="#000" stroke-width="3.2" fill="none"/>
<line x1="94.5" x2="104.0" y1="1551.3" y2="1551.3" stroke="#000" stroke-width="3"/>
<line x1="94.5" x2="104.0" y1="1525.7" y2="1525.7" stroke="#000" stroke-width="3"/>
<line x1="94.5" x2="104.0" y1="1500.0" y2="1500.0" stroke="#000" stroke-width="3"/>
<line x1="94.5" x2="104.0" y1="1474.4" y2="1474.4" stroke="#000" stroke-width="3"/>
<line x1="94.5" x2="104.0" y1="1448.7" y2="1448.7" stroke="#000" stroke-width="3"/>
<line x1="94.5" x2="104.0" y1="1423.1" y2="1423.1" stroke="#000" stroke-width="3"/>
<line x1="94.5" x2="104.0" y1="1397.4" y2="1397.4" stroke="#000" stroke-width="3"/>
<line x1="94.5" x2="104.0" y1="1371.8" y2="1371.8" stroke="#000" stroke-width="3"/>
<line x1="94.5" x2="104.0" y1="1346.1" y2="1346.1" stroke="#000" stroke-width="3"/>
<line x1="94.5" x2="104.0" y1="1320.5" y2="1320.5" stroke="#000" stroke-width="3"/>
<line x1="94.5" x2="104.0" y1="1294.8" y2="1294.8" stroke="#000" stroke-width="3"/>
<line x1="94.5" x2="104.0" y1="1269.2" y2="1269.2" stroke="#000" stroke-width="3"/>
<line x1="94.5" x2="104.0" y1="1243.5" y2="1243.5" stroke="#000" stroke-width="3"/>
<line x1="94.5" x2="104.0" y1="1217.9" y2="1217.9" stroke="#000" stroke-width="3"/>
<line x1="165.5" x2="165.5" y1="1551.3" y2="1561.0" stroke="#000" stroke-width="3"/>
<line x1="290.8" x2="290.8" y1="1551.3" y2="1561.0" stroke="#000" stroke-width="3"/>
<line x1="416.1" x2="416.1" y1="1551.3" y2="1561.0" stroke="#000" stroke-width="3"/>
<line x1="541.3" x2="541.3" y1="1551.3" y2="1561.0" stroke="#000" stroke-width="3"/>
<g fill="#000">
<text x="75.81" y="1559.10" font-family='"Liberation Sans", sans-serif' font-weight="normal" font-size="24.3" textLength="13.92" lengthAdjust="spacingAndGlyphs" stroke="#000" stroke-width="0.6">0</text>
<text x="62.42" y="1533.45" font-family='"Liberation Sans", sans-serif' font-weight="normal" font-size="24.3" textLength="27.84" lengthAdjust="spacingAndGlyphs" stroke="#000" stroke-width="0.6">10</text>
<text x="62.42" y="1507.81" font-family='"Liberation Sans", sans-serif' font-weight="normal" font-size="24.3" textLength="27.84" lengthAdjust="spacingAndGlyphs" stroke="#000" stroke-width="0.6">20</text>
<text x="62.42" y="1482.16" font-family='"Liberation Sans", sans-serif' font-weight="normal" font-size="24.3" textLength="27.84" lengthAdjust="spacingAndGlyphs" stroke="#000" stroke-width="0.6">30</text>
<text x="62.42" y="1456.52" font-family='"Liberation Sans", sans-serif' font-weight="normal" font-size="24.3" textLength="27.84" lengthAdjust="spacingAndGlyphs" stroke="#000" stroke-width="0.6">40</text>
<text x="62.42" y="1430.87" font-family='"Liberation Sans", sans-serif' font-weight="normal" font-size="24.3" textLength="27.84" lengthAdjust="spacingAndGlyphs" stroke="#000" stroke-width="0.6">50</text>
<text x="62.42" y="1405.22" font-family='"Liberation Sans", sans-serif' font-weight="normal" font-size="24.3" textLength="27.84" lengthAdjust="spacingAndGlyphs" stroke="#000" stroke-width="0.6">60</text>
<text x="62.42" y="1379.58" font-family='"Liberation Sans", sans-serif' font-weight="normal" font-size="24.3" textLength="27.84" lengthAdjust="spacingAndGlyphs" stroke="#000" stroke-width="0.6">70</text>
<text x="62.42" y="1353.93" font-family='"Liberation Sans", sans-serif' font-weight="normal" font-size="24.3" textLength="27.84" lengthAdjust="spacingAndGlyphs" stroke="#000" stroke-width="0.6">80</text>
<text x="62.42" y="1328.28" font-family='"Liberation Sans", sans-serif' font-weight="normal" font-size="24.3" textLength="27.84" lengthAdjust="spacingAndGlyphs" stroke="#000" stroke-width="0.6">90</text>
<text x="48.00" y="1302.64" font-family='"Liberation Sans", sans-serif' font-weight="normal" font-size="24.3" textLength="41.76" lengthAdjust="spacingAndGlyphs" stroke="#000" stroke-width="0.6">100</text>
<text x="50.06" y="1276.99" font-family='"Liberation Sans", sans-serif' font-weight="normal" font-size="24.3" textLength="39.91" lengthAdjust="spacingAndGlyphs" stroke="#000" stroke-width="0.6">110</text>
<text x="48.00" y="1251.35" font-family='"Liberation Sans", sans-serif' font-weight="normal" font-size="24.3" textLength="41.76" lengthAdjust="spacingAndGlyphs" stroke="#000" stroke-width="0.6">120</text>
<text x="48.00" y="1225.70" font-family='"Liberation Sans", sans-serif' font-weight="normal" font-size="24.3" textLength="41.76" lengthAdjust="spacingAndGlyphs" stroke="#000" stroke-width="0.6">130</text>
<text transform="translate(33.9,1452.0) rotate(-90)" x="-0.94" y="0" font-family='"Liberation Sans", sans-serif' font-weight="bold" font-size="29.4" textLength="137.88" lengthAdjust="spacingAndGlyphs">% Viability</text>
</g>
<line x1="95.4" x2="130.7" y1="563.7" y2="563.7" stroke="#000" stroke-width="2.8"/>
<circle cx="112.8" cy="563.7" r="7.15" fill="#000"/>
<line x1="95.4" x2="130.7" y1="608.6" y2="608.6" stroke="#3f53a7" stroke-width="3.2"/>
<rect x="105.5" y="601.3000000000001" width="14.6" height="14.6" rx="1" fill="#3f53a7"/>
<line x1="108" x2="143.7" y1="1139.5" y2="1139.5" stroke="#000" stroke-width="2.8"/>
<circle cx="125.8" cy="1139.5" r="7.15" fill="#000"/>
<line x1="108" x2="143.7" y1="1185" y2="1185" stroke="#3f53a7" stroke-width="3.2"/>
<rect x="118.5" y="1177.7" width="14.6" height="14.6" rx="1" fill="#3f53a7"/>
<path d="M32 104.7H216.5M230.8 104.7H415.4" stroke="#000" stroke-width="2.9"/>
</svg></body></html>
